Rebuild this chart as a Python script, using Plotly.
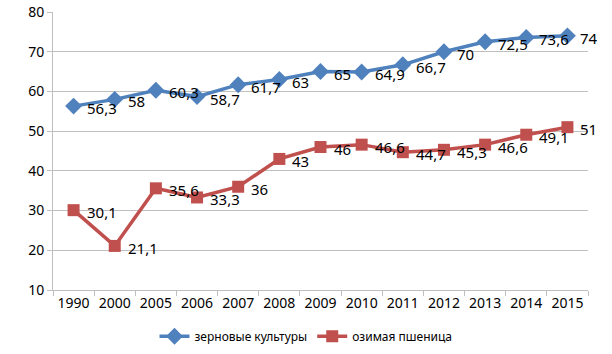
import plotly.graph_objects as go

years = ["1990", "2000", "2005", "2006", "2007", "2008", "2009", "2010", "2011", "2012", "2013", "2014", "2015"]
grain = [56.3, 58, 60.3, 58.7, 61.7, 63, 65, 64.9, 66.7, 70, 72.5, 73.6, 74]
wheat = [30.1, 21.1, 35.6, 33.3, 36, 43, 46, 46.6, 44.7, 45.3, 46.6, 49.1, 51]
name_grain = "зерновые культуры"
name_wheat = "озимая пшеница"
ytick_vals = [10, 20, 30, 40, 50, 60, 70, 80]


def fmt(v):
    return ("%g" % v).replace(".", ",")


fig = go.Figure()
fig.add_trace(go.Scatter(
    x=years, y=grain, name=name_grain, mode="lines+markers",
    line=dict(color="#4F81BD", width=3.5),
    marker=dict(symbol="diamond", size=13, color="#4F81BD"),
))
fig.add_trace(go.Scatter(
    x=years, y=wheat, name=name_wheat, mode="lines+markers",
    line=dict(color="#C0504D", width=3.5),
    marker=dict(symbol="square", size=12, color="#C0504D"),
))

for series in (grain, wheat):
    for i, v in enumerate(series):
        fig.add_annotation(
            x=i, y=v, xref="x", yref="y", text=fmt(v), showarrow=False,
            xanchor="left", yanchor="middle", xshift=11, yshift=-2,
            font=dict(size=15, color="#000000"),
        )

fig.update_layout(
    width=612, height=354,
    margin=dict(l=53, r=24, t=12, b=64),
    paper_bgcolor="white", plot_bgcolor="white",
    font=dict(family="Noto Sans, DejaVu Sans, sans-serif", size=14, color="#000000"),
    legend=dict(orientation="h", xref="container", yref="container",
                x=0.5, xanchor="center", y=0.05, yanchor="middle",
                font=dict(size=12), itemwidth=30, tracegroupgap=0),
    showlegend=True,
)
fig.update_xaxes(
    type="category", range=[-0.5, 12.5],
    showline=True, linecolor="#BFBFBF", linewidth=1,
    ticks="outside", tickson="boundaries", ticklen=5, tickcolor="#BFBFBF",
    showgrid=False, tickfont=dict(size=14), automargin=False,
)
fig.update_yaxes(
    range=[10, 80], tickmode="array", tickvals=ytick_vals,
    showline=True, linecolor="#BFBFBF", linewidth=1,
    ticks="outside", ticklen=5, tickcolor="#BFBFBF",
    showgrid=True, gridcolor="#BFBFBF", gridwidth=1,
    zeroline=False, tickfont=dict(size=14), automargin=False,
)

fig.write_html("out.html")
